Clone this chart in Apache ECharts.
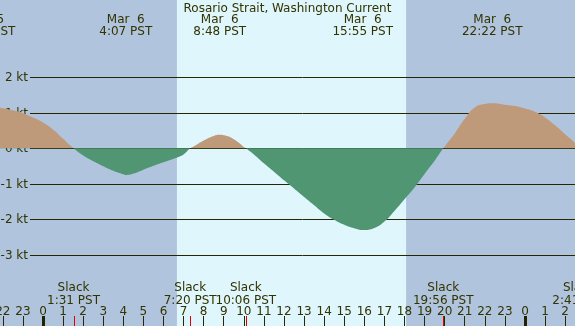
<!DOCTYPE html>
<html>
<head>
<meta charset="utf-8">
<script src="https://cdn.jsdelivr.net/npm/echarts@6/dist/echarts.min.js"></script>
<style>
  html, body { margin: 0; padding: 0; }
  #main { width: 575px; height: 326px; }
</style>
</head>
<body>
<div id="main"></div>
<script>
// current speed, hours from midnight Mar 6 (PST) -> knots
const hours = [-2.5, -2, -1.5, -1, -0.5, 0, 0.5, 1, 1.52, 2, 2.5, 3, 3.5, 4, 4.12, 4.5, 5, 5.5, 6, 6.5, 7, 7.33,
  7.5, 8, 8.5, 8.8, 9, 9.5, 10.1, 10.5, 11, 11.5, 12, 12.5, 13, 13.5, 14, 14.5, 15, 15.5, 15.92, 16.5, 17, 17.5,
  18, 18.5, 19, 19.5, 19.93, 20.5, 21, 21.5, 22, 22.37, 23, 23.5, 24, 24.5, 25, 25.5, 26, 26.5, 26.68];
const speeds = [1.18, 1.13, 1.07, 0.99, 0.87, 0.73, 0.53, 0.27, 0, -0.2, -0.36, -0.5, -0.63, -0.73, -0.75, -0.71, -0.6, -0.49, -0.39, -0.29, -0.17, 0,
  0.05, 0.22, 0.35, 0.38, 0.37, 0.26, 0, -0.17, -0.42, -0.66, -0.9, -1.13, -1.37, -1.6, -1.83, -2.01, -2.15, -2.25, -2.3, -2.24, -2.06, -1.76,
  -1.43, -1.1, -0.72, -0.35, 0, 0.42, 0.83, 1.15, 1.25, 1.27, 1.23, 1.19, 1.12, 1.03, 0.87, 0.65, 0.4, 0.15, 0];

// max flood / ebb events (top labels)
const eventTimes = [-2.88, 4.12, 8.8, 15.92, 22.37];
const eventDates = ['Mar  5', 'Mar  6', 'Mar  6', 'Mar  6', 'Mar  6'];
const eventLabels = ['21:07 PST', '4:07 PST', '8:48 PST', '15:55 PST', '22:22 PST'];

// slack water (bottom labels)
const slackTimes = [1.52, 7.33, 10.1, 19.93, 26.68];
const slackLabels = ['1:31 PST', '7:20 PST', '10:06 PST', '19:56 PST', '2:41 PST'];

const hourTicks = [-2, -1, 0, 1, 2, 3, 4, 5, 6, 7, 8, 9, 10, 11, 12, 13, 14, 15, 16, 17, 18, 19, 20, 21, 22, 23, 24, 25, 26];
const midnights = [0, 24];
const ktLevels = [2, 1, 0, -1, -2, -3];
const sunrise = 6.67, sunset = 18.08;

const NIGHT = '#b0c4de', DAY = '#dff6fd';
const FLOOD = '#bf9a7a', EBB = '#519673';
const TXT = '#333300', LINE = '#262600';
const FONT = 'DejaVu Sans';
const X_MIN = -2.141, X_MAX = 26.49, Y_MIN = -5, Y_MAX = 4.176;

var myChart = echarts.init(document.getElementById('main'));

function txt(x, y, s, align) {
  return { type: 'text', style: { x: x, y: y, text: s, align: align || 'center', verticalAlign: 'middle',
    fontSize: 12, fontFamily: FONT, fill: TXT } };
}

// flood above zero, ebb below: hard stop where the zero line sits
const zeroAt = Y_MAX / (Y_MAX - Y_MIN);
const areaFill = {
  type: 'linear', x: 0, y: 0, x2: 0, y2: 326, global: true,
  colorStops: [
    { offset: 0, color: FLOOD }, { offset: zeroAt, color: FLOOD },
    { offset: zeroAt, color: EBB }, { offset: 1, color: EBB }
  ]
};

const option = {
  animation: false,
  backgroundColor: NIGHT,
  title: {
    text: 'Rosario Strait, Washington Current',
    left: 'center', top: 3, padding: 0,
    textStyle: { fontSize: 12, fontWeight: 'normal', fontFamily: FONT, color: TXT }
  },
  grid: { left: 0, right: 0, top: 0, bottom: 0, outerBoundsMode: 'none' },
  xAxis: {
    type: 'value', min: X_MIN, max: X_MAX,
    axisLine: { show: false, onZero: false },
    splitLine: { show: false },
    axisTick: { inside: true, length: 10, customValues: hourTicks, lineStyle: { color: LINE } },
    axisLabel: {
      inside: true, margin: 8, customValues: hourTicks, color: TXT, fontSize: 12, fontFamily: FONT,
      formatter: function (v) { return String(((v % 24) + 24) % 24); }
    }
  },
  yAxis: {
    type: 'value', min: Y_MIN, max: Y_MAX,
    axisLine: { show: false }, axisTick: { show: false }, axisLabel: { show: false }, splitLine: { show: false }
  },
  series: [
    {
      // daylight band
      type: 'custom', z: 0, silent: true,
      data: [[sunrise, sunset]],
      renderItem: function (params, api) {
        var x0 = api.coord([api.value(0), 0])[0];
        var x1 = api.coord([api.value(1), 0])[0];
        return { type: 'rect', shape: { x: x0, y: 0, width: x1 - x0, height: api.getHeight() }, style: { fill: DAY } };
      }
    },
    {
      // knot gridlines + labels
      type: 'custom', z: 1, silent: true,
      data: ktLevels.map(function (v) { return [0, v]; }),
      renderItem: function (params, api) {
        var y = Math.round(api.coord([0, api.value(1)])[1]) + 0.5;
        return { type: 'group', children: [
          { type: 'line', shape: { x1: 30, y1: y, x2: api.getWidth(), y2: y }, style: { stroke: LINE, lineWidth: 1 } },
          txt(28, y + 0.5, api.value(1) + ' kt', 'right')
        ] };
      }
    },
    {
      type: 'line', z: 2,
      data: hours.map(function (h, i) { return [h, speeds[i]]; }),
      smooth: true, showSymbol: false, symbol: 'none',
      lineStyle: { width: 0 },
      areaStyle: { color: areaFill, opacity: 1 }
    },
    {
      // midnight and slack tick marks
      type: 'custom', z: 3, silent: true,
      data: midnights.map(function (t) { return [t, 0]; }).concat(slackTimes.map(function (t) { return [t, 1]; })),
      renderItem: function (params, api) {
        var x = Math.round(api.coord([api.value(0), 0])[0]);
        var h = api.getHeight();
        var red = api.value(1) === 1;
        return { type: 'rect', shape: red ? { x: x, y: h - 10, width: 1, height: 10 } : { x: x - 1, y: h - 10, width: 3, height: 10 },
          style: { fill: red ? '#dd0000' : '#222200' } };
      }
    },
    {
      // max current labels
      type: 'custom', z: 4, silent: true,
      data: eventTimes.map(function (t, i) { return [t, i]; }),
      renderItem: function (params, api) {
        var x = api.coord([api.value(0), 0])[0];
        var i = api.value(1);
        return { type: 'group', children: [txt(x, 20, eventDates[i]), txt(x, 32, eventLabels[i])] };
      }
    },
    {
      // slack labels
      type: 'custom', z: 4, silent: true,
      data: slackTimes.map(function (t, i) { return [t, i]; }),
      renderItem: function (params, api) {
        var x = api.coord([api.value(0), 0])[0];
        var i = api.value(1);
        return { type: 'group', children: [txt(x, 288, 'Slack'), txt(x, 301, slackLabels[i])] };
      }
    }
  ]
};

myChart.setOption(option);
</script>
</body>
</html>
